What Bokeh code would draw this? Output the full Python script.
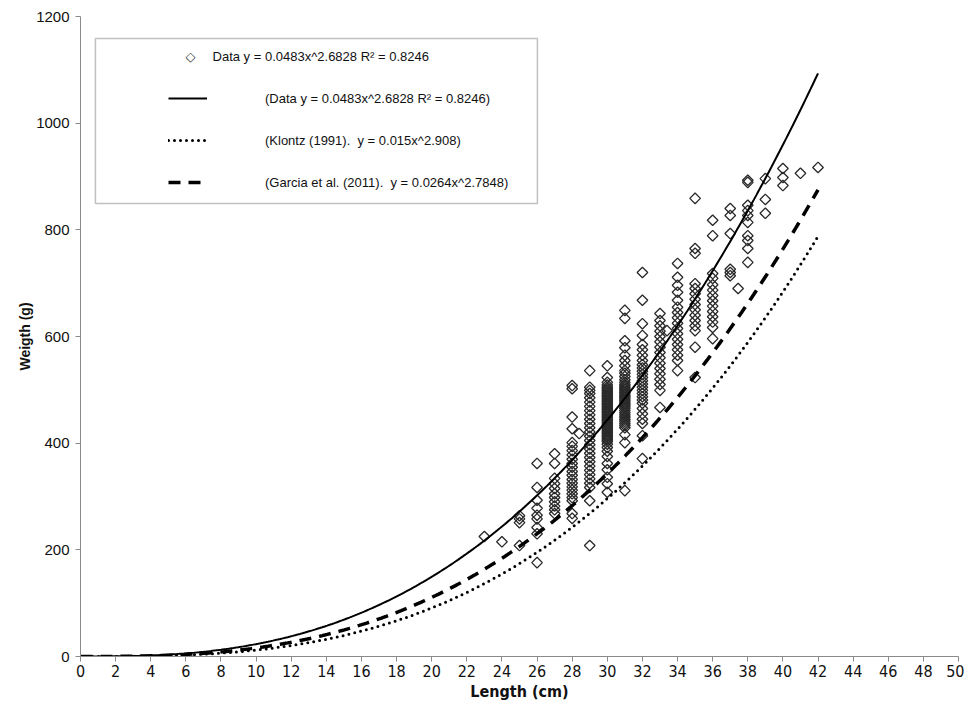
import numpy as np
from bokeh.plotting import figure
from bokeh.models import (Range1d, Legend, LegendItem, BoxAnnotation, FixedTicker, Label)
from bokeh.embed import file_html
from bokeh.resources import INLINE

# ---- data ----
W23 = [225]
W24 = [215]
W25 = [208, 251, 258, 264]
W26 = [176, 230, 242, 258, 265, 278, 293, 317, 362]
W27 = [268, 275, 282, 290, 298, 305, 315, 324, 334, 362, 380]
W28 = [259, 268, 292, 298, 305, 312, 318, 325, 332, 340, 347, 355, 362, 370, 378, 386,
       394, 401, 427, 449, 502, 508]
W29 = [208, 292, 317, 325, 333, 341, 349, 357, 365, 373, 381, 389, 397, 405, 413, 421,
       429, 437, 445, 453, 461, 469, 477, 485, 493, 499, 505, 536]
W30 = [308, 324, 336, 350, 362, 375, 385, 392, 398, 403, 406, 409, 412, 415, 418, 421,
       424, 427, 430, 433, 436, 439, 442, 445, 448, 451, 454, 457, 460, 463, 466, 469,
       472, 475, 478, 481, 484, 487, 490, 493, 496, 499, 502, 505, 509, 514, 523, 545]
W31 = [311, 401, 416, 429, 433, 437, 441, 445, 449, 453, 457, 461, 465, 468, 471, 474,
       477, 480, 483, 486, 489, 492, 495, 498, 501, 504, 507, 510, 514, 519, 525, 531,
       536, 545, 555, 565, 579, 592, 634, 649]
W32 = [371, 414, 437, 445, 455, 465, 475, 481, 487, 493, 499, 505, 511, 517, 523, 529,
       535, 541, 547, 555, 565, 575, 585, 602, 624, 668, 720]
W33 = [467, 499, 510, 520, 530, 540, 550, 560, 570, 580, 590, 600, 610, 620, 630, 643]
W34 = [536, 555, 565, 575, 585, 595, 605, 615, 625, 635, 645, 655, 668, 683, 696, 711, 737]
W35 = [523, 580, 611, 620, 630, 640, 650, 660, 670, 680, 690, 699, 756, 765, 859]
W36 = [596, 617, 627, 637, 647, 657, 667, 677, 687, 697, 709, 718, 789, 818]
W37 = [714, 720, 726, 793, 827, 840]
W38 = [739, 765, 780, 789, 814, 827, 836, 846, 889, 893]
W39 = [831, 857, 896]
W40 = [883, 898, 915]
W41 = [906]
W42 = [917]
EXTRA_LENGTH = [28.4, 33.4, 37.45]
EXTRA_WEIGHT = [418, 611, 690]

COLUMNS = {23: W23, 24: W24, 25: W25, 26: W26, 27: W27, 28: W28, 29: W29, 30: W30,
           31: W31, 32: W32, 33: W33, 34: W34, 35: W35, 36: W36, 37: W37, 38: W38,
           39: W39, 40: W40, 41: W41, 42: W42}

# power-law fits y = a * x^b, as printed in the legend
FIT_DATA = (0.0483, 2.6828)
FIT_KLONTZ = (0.015, 2.908)
FIT_GARCIA = (0.0264, 2.7848)
FIT_XMAX = 42

X_TICKS = list(range(0, 51, 2))
Y_TICKS = list(range(0, 1201, 200))

LBL_POINTS = "Data y = 0.0483x^2.6828 R\u00b2 = 0.8246"
LBL_FIT = "(Data y = 0.0483x^2.6828 R\u00b2 = 0.8246)"
LBL_KLONTZ = "(Klontz (1991).  y = 0.015x^2.908)"
LBL_GARCIA = "(Garcia et al. (2011).  y = 0.0264x^2.7848)"

lengths, weights = [], []
for L, ws in COLUMNS.items():
    lengths += [L] * len(ws)
    weights += ws
lengths += EXTRA_LENGTH
weights += EXTRA_WEIGHT

xs = np.linspace(0, FIT_XMAX, 300)
def curve(fit):
    a, b = fit
    return a * xs ** b

FONT = "Liberation Sans"
NARROW = "'Liberation Sans Narrow', 'DejaVu Sans Condensed', 'Liberation Sans'"

p = figure(width=964, height=704, output_backend="svg", toolbar_location=None,
           x_range=Range1d(0, 50), y_range=Range1d(0, 1200),
           min_border_left=80, min_border_right=6, min_border_top=16, min_border_bottom=48)
p.outline_line_color = None
p.grid.visible = False
p.background_fill_color = "white"
p.border_fill_color = "white"

pts = p.scatter(lengths, weights, marker="square", angle=np.pi / 4, size=7.5,
                fill_color=None, line_color="#2a2a2a", line_width=1.3)
l_fit = p.line(xs, curve(FIT_DATA), line_color="black", line_width=2)
l_kl = p.line(xs, curve(FIT_KLONTZ), line_color="black", line_width=3,
              line_dash="0 6", line_cap="round")
l_ga = p.line(xs, curve(FIT_GARCIA), line_color="black", line_width=3.5,
              line_dash="12 8")

for ax in (p.xaxis[0], p.yaxis[0]):
    ax.axis_line_color = "#8a8a8a"
    ax.major_tick_line_color = "#8a8a8a"
    ax.minor_tick_line_color = None
    ax.major_tick_in = 0
    ax.major_tick_out = 5
    ax.major_label_text_color = "#111111"
    ax.axis_label_text_font_style = "bold"
    ax.axis_label_text_color = "#111111"

p.xaxis.major_label_text_font = NARROW
p.xaxis.major_label_text_font_size = "16px"
p.yaxis.major_label_text_font = FONT
p.yaxis.major_label_text_font_size = "15px"
p.xaxis.axis_label_text_font = NARROW
p.xaxis.axis_label_text_font_size = "16px"
p.yaxis.axis_label_text_font = FONT
p.yaxis.axis_label_text_font_size = "14px"

p.xaxis.ticker = FixedTicker(ticks=X_TICKS)
p.yaxis.ticker = FixedTicker(ticks=Y_TICKS)
p.xaxis.axis_label = "Length (cm)"
p.yaxis.axis_label = "Weigth (g)"
p.xaxis.major_label_standoff = 3
p.xaxis.axis_label_standoff = 2
p.yaxis.major_label_standoff = 6
p.yaxis.axis_label_standoff = 0

# legend frame
p.add_layout(BoxAnnotation(left=0.85, right=26.02, bottom=849.5, top=1158.8,
                           fill_alpha=0, line_color="#333333", line_width=1.5,
                           level="overlay"))

# first legend row: hollow diamond symbol and its text
p.add_layout(Label(x=6.26, y=1125, text="\u25c7", text_font="DejaVu Sans",
                   text_font_size="13px", text_color="#333333",
                   text_align="center", text_baseline="middle"))
p.add_layout(Label(x=7.52, y=1125, text=LBL_POINTS, text_font=FONT,
                   text_font_size="13px", text_color="#111111",
                   text_align="left", text_baseline="middle"))

leg2 = Legend(items=[LegendItem(label=LBL_FIT, renderers=[l_fit]),
                     LegendItem(label=LBL_KLONTZ, renderers=[l_kl]),
                     LegendItem(label=LBL_GARCIA, renderers=[l_ga])],
              location=(88, 464), label_standoff=58,
              border_line_alpha=0, background_fill_alpha=0, padding=0, margin=0,
              glyph_width=39, glyph_height=20, spacing=22,
              label_text_font=FONT, label_text_font_size="13px",
              label_text_color="#111111")
p.add_layout(leg2)

open("out.html", "w").write(file_html(p, INLINE))
